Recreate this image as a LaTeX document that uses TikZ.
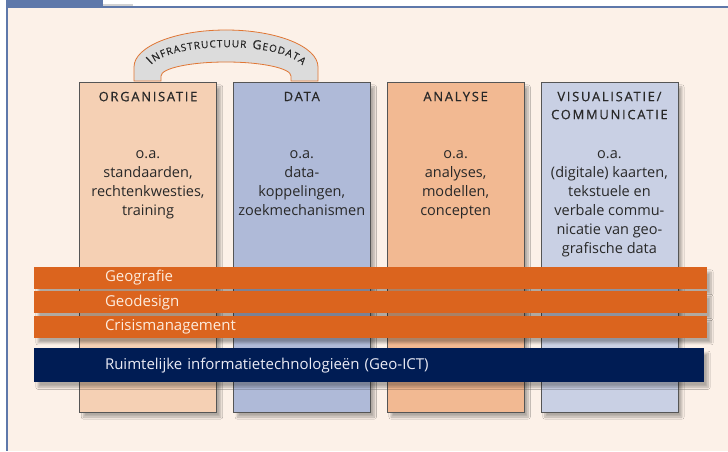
\documentclass[tikz,border=0pt]{standalone}
\usepackage{fontspec}
\setmainfont{Open Sans}
\newfontfamily\headfont[LetterSpace=13,FakeBold=0.5]{Open Sans}
\usepackage{tikz}
\usetikzlibrary{positioning,decorations.text,shadows.blur}

\definecolor{bgcream}{RGB}{252,241,232}
\definecolor{frameblue}{RGB}{94,120,170}
\definecolor{orgfill}{RGB}{245,208,180}
\definecolor{datafill}{RGB}{175,186,216}
\definecolor{anafill}{RGB}{242,185,146}
\definecolor{visfill}{RGB}{201,208,228}
\definecolor{colborder}{RGB}{85,85,85}
\definecolor{txtdark}{RGB}{40,40,40}
\definecolor{bandorange}{RGB}{219,100,30}
\definecolor{bandnavy}{RGB}{0,28,84}
\definecolor{bandtext}{RGB}{253,236,222}
\definecolor{archgray}{RGB}{220,220,220}
\definecolor{archline}{RGB}{224,118,52}

\newcommand{\archbig}{\headfont\fontsize{12.5}{12}\selectfont\color{txtdark}}
\newcommand{\archsmall}{\headfont\fontsize{10}{10}\selectfont\color{txtdark}}

\tikzset{
  column/.style={draw=colborder, line width=0.8pt, minimum width=137pt,
    minimum height=330pt, inner sep=0pt,
    blur shadow={shadow xshift=4pt, shadow yshift=-5pt, shadow opacity=30, shadow blur steps=8}},
  colhead/.style={font=\headfont\fontsize{13}{18}\selectfont, align=center,
    inner sep=0pt, text=txtdark},
  colbody/.style={font=\fontsize{14.5}{19}\selectfont, align=center,
    inner sep=0pt, text=txtdark},
  band/.style={fill=bandorange, minimum height=22pt, text width=531pt,
    inner xsep=71pt, inner ysep=0pt, align=left, text=bandtext,
    font=\fontsize{15}{15}\selectfont,
    blur shadow={shadow xshift=4pt, shadow yshift=-5pt, shadow opacity=30, shadow blur steps=8}}
}

\begin{document}
\begin{tikzpicture}[x=1pt, y=1pt]
    \useasboundingbox (0,0) rectangle (728,451);
    % frame
    \fill[white] (0,0) rectangle (728,451);
    \fill[bgcream] (8,0) rectangle (728,443);
    \fill[frameblue] (6,0) rectangle (8,451);
    \fill[frameblue] (6,443) rectangle (728,445);
    \fill[frameblue] (6,444) rectangle (103,451);
    \fill[gray!35] (103,445) rectangle (133,446.5);

    % columns
    \node[column, fill=orgfill] (org) at (148,204) {};
    \node[column, fill=datafill, right=16pt of org] (data) {};
    \node[column, fill=anafill, right=16pt of data] (analyse) {};
    \node[column, fill=visfill, right=16pt of analyse] (vis) {};

    \node[colhead, below=10pt of org.north] (orghead) {ORGANISATIE};
    \node[colhead, below=10pt of data.north] (datahead) {DATA};
    \node[colhead, below=10pt of analyse.north] (analysehead) {ANALYSE};
    \node[colhead, below=10pt of vis.north] (vishead) {VISUALISATIE/\\COMMUNICATIE};

    \node[colbody, below=69pt of org.north] (orgtext)
        {o.a.\\standaarden,\\rechtenkwesties,\\training};
    \node[colbody, below=69pt of data.north] (datatext)
        {o.a.\\data-\\koppelingen,\\zoekmechanismen};
    \node[colbody, below=69pt of analyse.north] (analysetext)
        {o.a.\\analyses,\\modellen,\\concepten};
    \node[colbody, below=69pt of vis.north] (vistext)
        {o.a.\\(digitale) kaarten,\\tekstuele en\\verbale commu-\\nicatie van geo-\\grafische data};

    % bands
    \node[band] (geografie) at (370.5,173) {Geografie};
    \node[band, below=2pt of geografie] (geodesign) {Geodesign};
    \node[band, below=2pt of geodesign] (crisis) {Crisismanagement};
    \node[band, fill=bandnavy, minimum height=34pt, text width=528pt,
        text={rgb,255:red,235;green,235;blue,245},
        below right=10pt and 0pt of crisis.south west] (geoict)
        {Ruimtelijke informatietechnologieën (Geo-ICT)};

    % arch
    \draw[archline, line width=0.8pt, fill=archgray] (134,370) -- (134,384)
        arc[start angle=180, end angle=0, x radius=92, y radius=37] -- (318,370)
        -- (291,370) -- (291,375)
        arc[start angle=0, end angle=180, x radius=65, y radius=14] -- (161,370) -- cycle;
    \path[decorate, decoration={text along path, text align={fit to path},
        text={|\archbig|I|\archsmall|NFRASTRUCTUUR |\archbig|G|\archsmall|EODATA}}]
        (151.1,386) arc[start angle=165, end angle=14, x radius=78, y radius=24];
\end{tikzpicture}
\end{document}
